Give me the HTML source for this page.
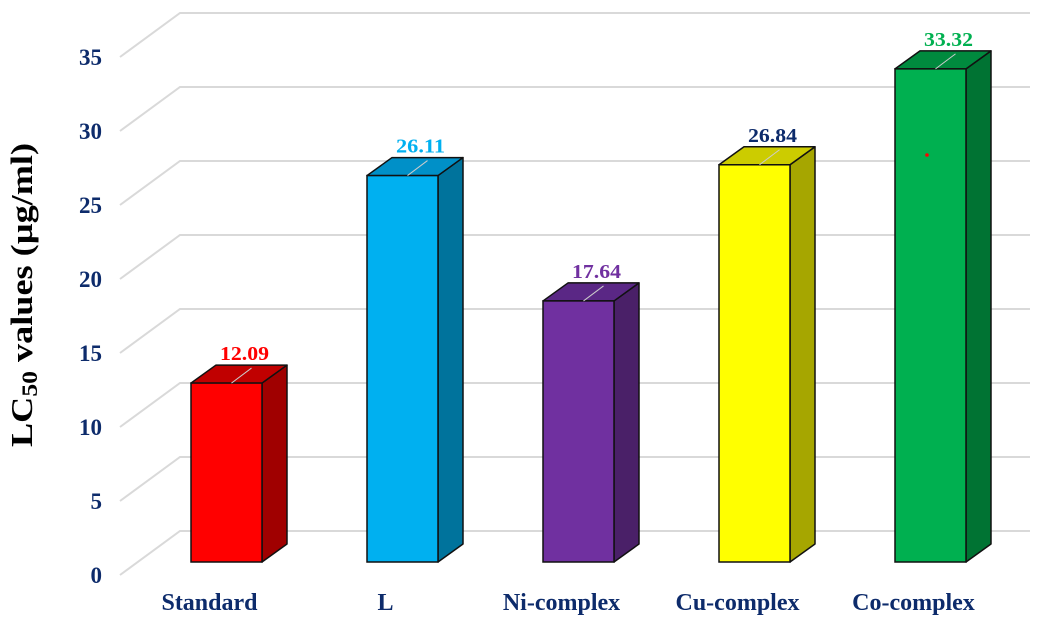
<!DOCTYPE html>
<html><head><meta charset="utf-8"><style>
html,body{margin:0;padding:0;background:#fff;}
svg{display:block;font-family:"Liberation Serif",serif;font-weight:bold;}
</style></head><body>
<svg id="chart" width="1046" height="627" viewBox="0 0 1046 627">
<text transform="translate(32,295) rotate(-90)" text-anchor="middle" font-size="31" fill="#000" textLength="304" lengthAdjust="spacingAndGlyphs">LC<tspan font-size="22" dy="5">50</tspan><tspan dy="-5"> values (µg/ml)</tspan></text>
<g id="grid"></g>
<g id="ticks"></g>
<g id="bars"></g>
<g id="cats"></g>
</svg>
<script>
const categories = ["Standard","L","Ni-complex","Cu-complex","Co-complex"];
const values = [12.09, 26.11, 17.64, 26.84, 33.32];
const valueLabels = ["12.09","26.11","17.64","26.84","33.32"];
const yTicks = [0,5,10,15,20,25,30,35];
const fronts = ["#ff0000","#00b0f0","#7030a0","#ffff00","#00b050"];
const sides = ["#a00000","#00739c","#4a2068","#a6a600","#007333"];
const tops = ["#c00000","#0090c8","#5a2785","#cccc00","#008a3e"];
const labelColors = ["#ff0000","#00b0f0","#7030a0","#0d2b6b","#00b050"];

const NS="http://www.w3.org/2000/svg";
const PX=14.8, DX=25, DY=18, BASE=562, BW=71;
function y(v){return BASE - v*PX;}
function xBar(i){return 191 + i*176;}
function mk(tag,attrs,parent){const e=document.createElementNS(NS,tag);for(const k in attrs)e.setAttribute(k,attrs[k]);parent.appendChild(e);return e;}
const grid=document.getElementById('grid'), ticks=document.getElementById('ticks'), bars=document.getElementById('bars'), cats=document.getElementById('cats');
yTicks.forEach(t=>{
  const yf=y(t)+13, yb=y(t)-31;
  const p=mk('polyline',{points:`120,${yf} 180,${yb} 1030,${yb}`,fill:'none',stroke:'#d9d9d9','stroke-width':2},grid);
  
  
  const tx=mk('text',{x:102,y:yf+8,'text-anchor':'end','font-size':23,fill:'#0d2b6b'},ticks);
  tx.textContent=t;
  
  
});
values.forEach((v,i)=>{
  const x=xBar(i), yt=y(v);
  const g=mk('g',{},bars);
  
  
  mk('polygon',{points:`${x+BW},${yt} ${x+BW+DX},${yt-DY} ${x+BW+DX},${BASE-DY} ${x+BW},${BASE}`,fill:sides[i],stroke:'#111','stroke-width':1.5,'stroke-linejoin':'round'},g);
  mk('polygon',{points:`${x},${yt} ${x+DX},${yt-DY} ${x+BW+DX},${yt-DY} ${x+BW},${yt}`,fill:tops[i],stroke:'#111','stroke-width':1.5,'stroke-linejoin':'round'},g);
  mk('rect',{x:x,y:yt,width:BW,height:BASE-yt,fill:fronts[i],stroke:'#111','stroke-width':1.5},g);
  mk('line',{x1:x+BW/2+5,y1:yt,x2:x+BW/2+25,y2:yt-DY+3,stroke:'#ccc','stroke-width':1},g);
  const lb=mk('text',{x:x+BW/2+18,y:yt-23,'text-anchor':'middle','font-size':20,fill:labelColors[i],textLength:49,lengthAdjust:'spacingAndGlyphs'},g);
  lb.textContent=valueLabels[i];
  
  
  const c=mk('text',{x:x+BW/2-17,y:610,'text-anchor':'middle','font-size':24,fill:'#0d2b6b'},cats);
  c.textContent=categories[i];
  
  
});
mk('circle',{cx:927,cy:155,r:1.8,fill:'#ff0000'},bars);
</script>
</body></html>
